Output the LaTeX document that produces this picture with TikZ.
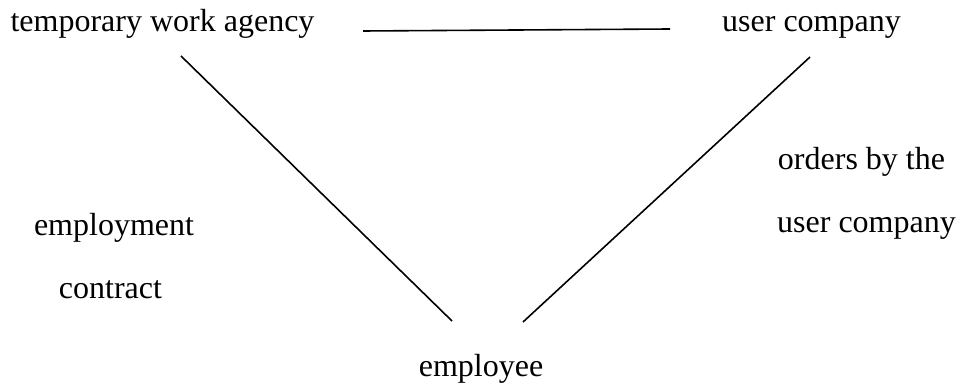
\documentclass[tikz,border=0pt]{standalone}
\usepackage{fontspec}
\setmainfont{Liberation Serif}
\tikzset{
  lbl/.style={inner sep=0pt, anchor=base, font=\fontsize{32}{38}\selectfont},
  link/.style={line width=1.6pt, black}
}
\begin{document}
\begin{tikzpicture}[x=1pt,y=-1pt]
\useasboundingbox (0,0) rectangle (960,387);
\node[lbl] (agency) at (162.5,32) {temporary work agency};
\node[lbl] (user) at (811.5,32) {user company};
\node[lbl] (orders1) at (861.5,170) {orders by the};
\node[lbl] (orders2) at (866.5,233) {user company};
\node[lbl] (contract1) at (114,236) {employment};
\node[lbl] (contract2) at (110.5,298) {contract};
\node[lbl] (employee) at (481,376) {employee};
\coordinate (topL) at (363,31);
\coordinate (topR) at (670,29);
\coordinate (leftT) at (181,56);
\coordinate (leftB) at (452,321);
\coordinate (rightT) at (810,57);
\coordinate (rightB) at (523,322);
\draw[link] (topL) -- (topR);
\draw[link] (leftT) -- (leftB);
\draw[link] (rightT) -- (rightB);
\end{tikzpicture}
\end{document}
